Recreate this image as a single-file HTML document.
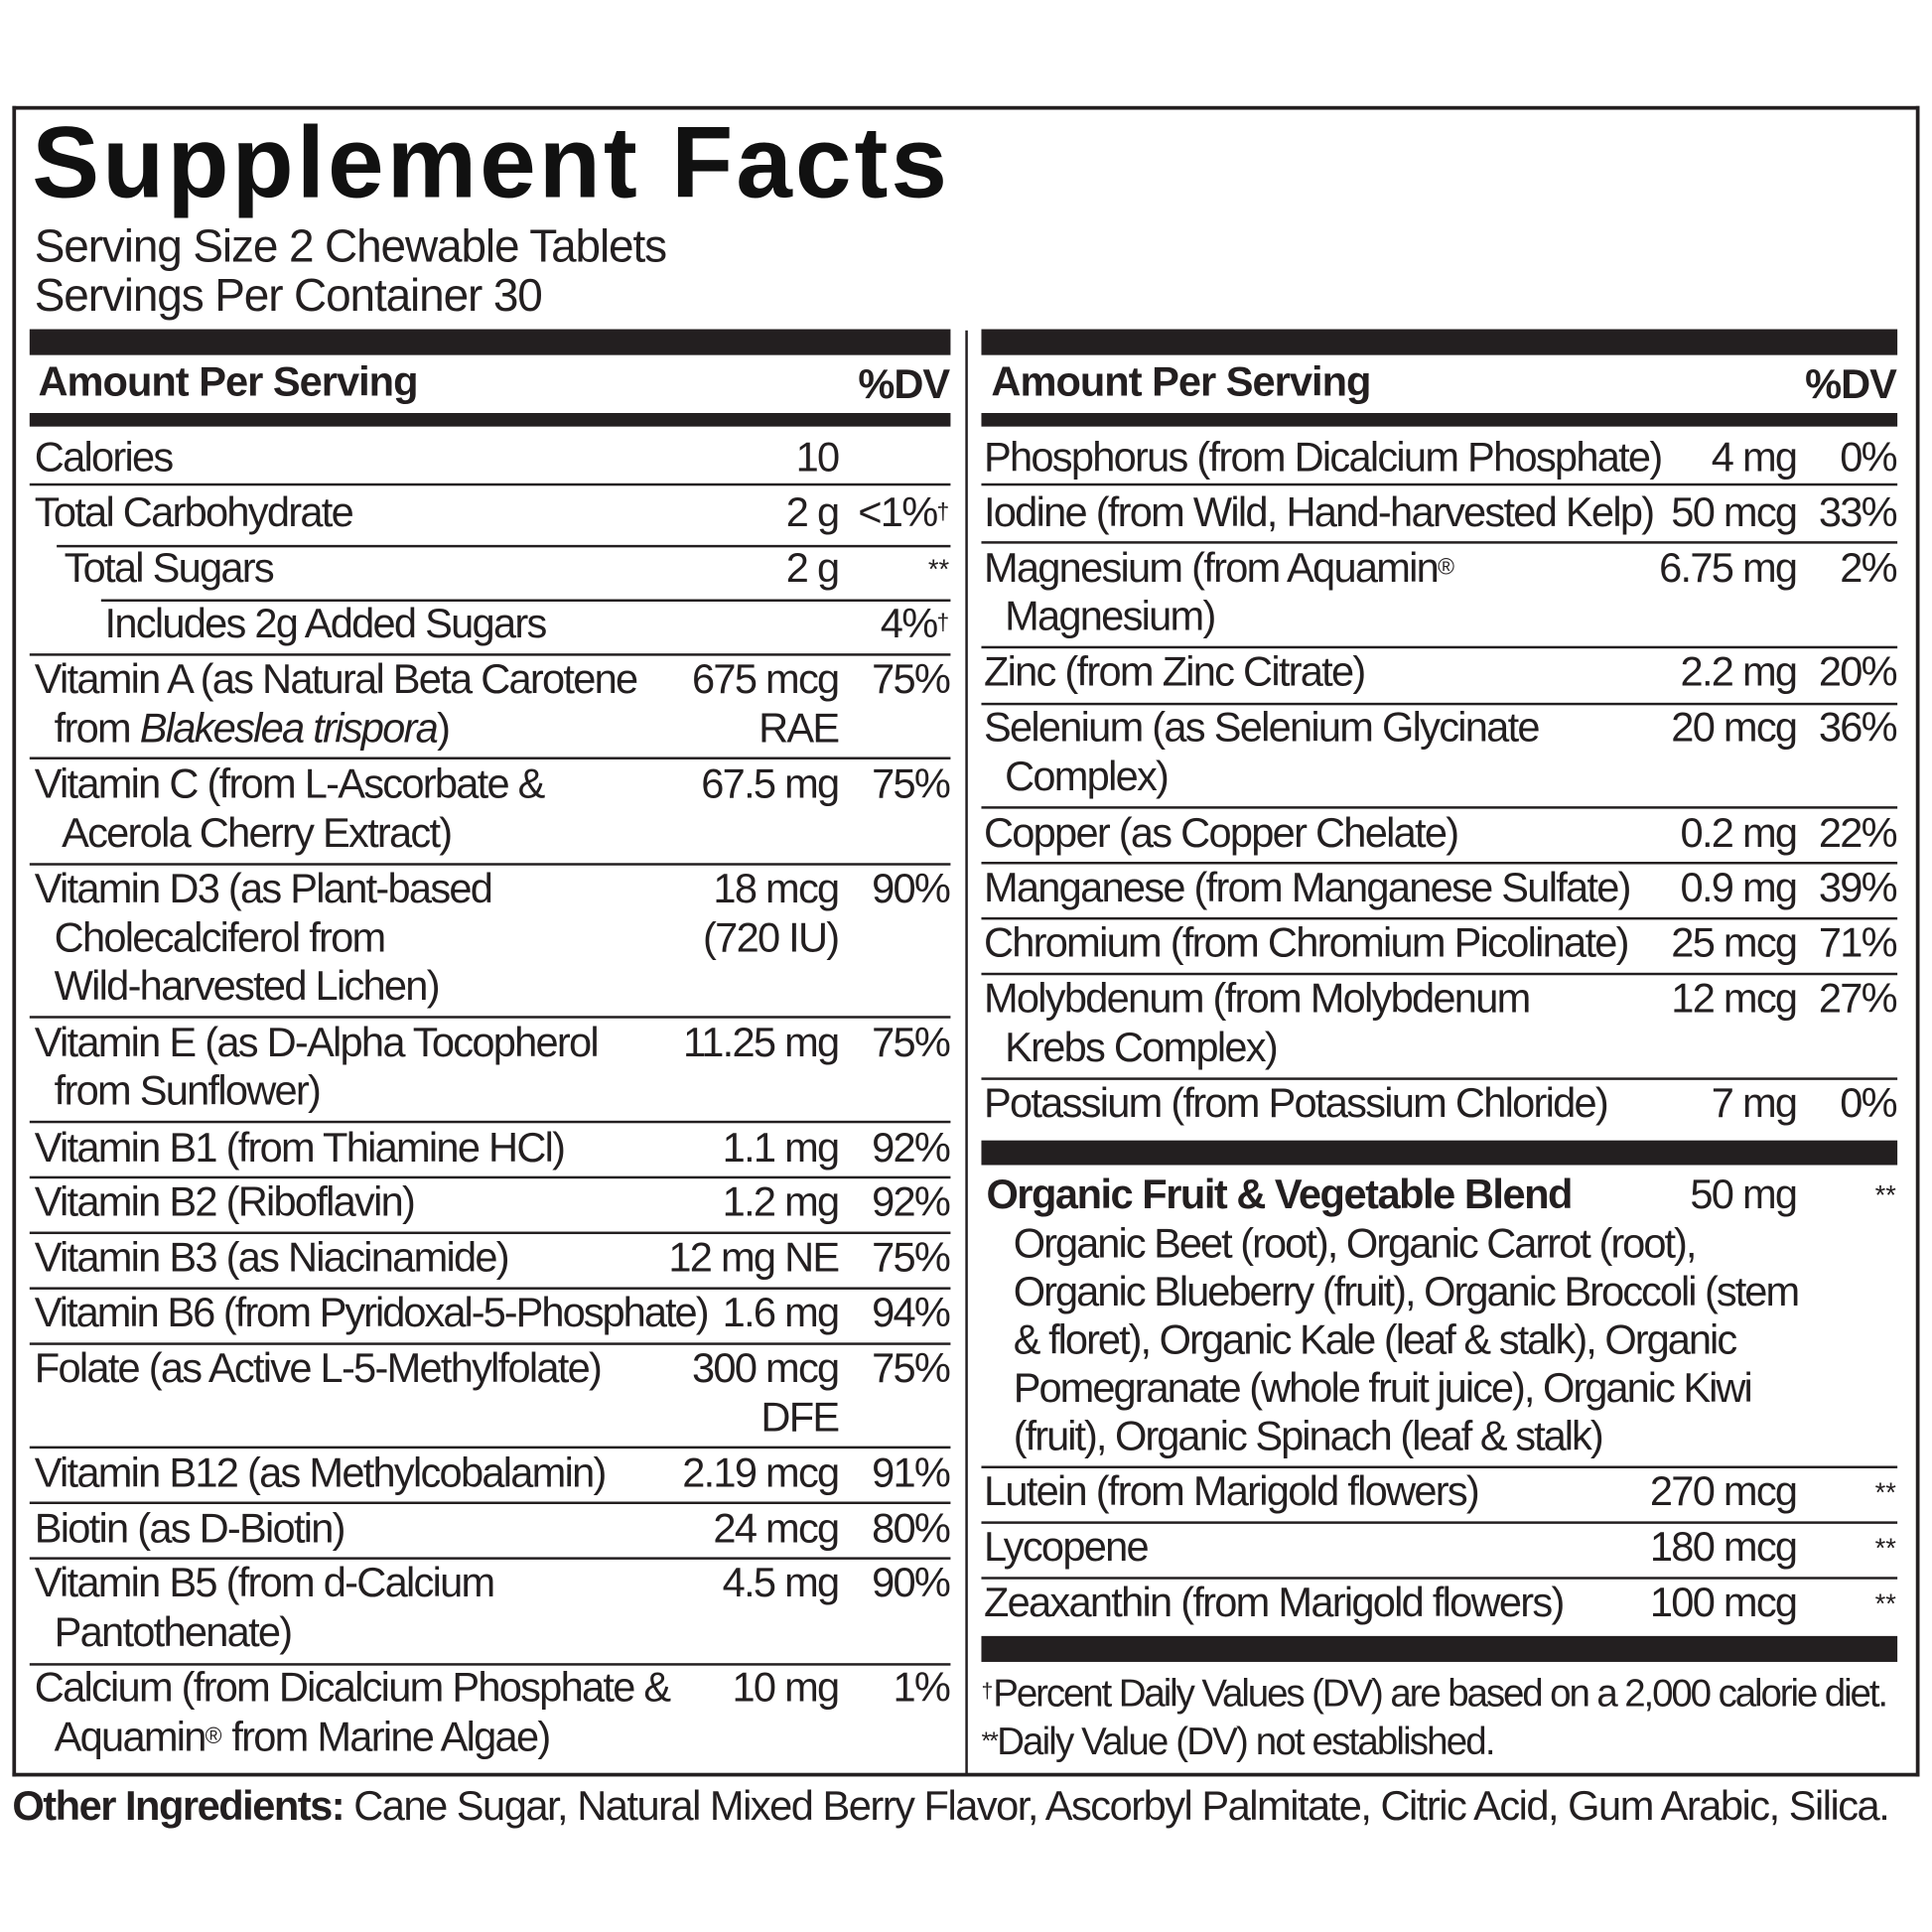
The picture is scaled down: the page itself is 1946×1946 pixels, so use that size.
<!DOCTYPE html>
<html><head><meta charset="utf-8"><style>
html,body{margin:0;padding:0;background:#fff;width:1946px;height:1946px;overflow:hidden}
#w{position:absolute;left:0;top:0;width:1560px;height:1560px;transform:scale(1.2418);transform-origin:0 0;font-family:"Liberation Sans",Arial,sans-serif;color:#231f20}
.t{position:absolute;white-space:nowrap;font-size:33.5px;line-height:34px;letter-spacing:-1.4px}
.b{font-weight:bold;letter-spacing:-0.8px}
.l{position:absolute;background:#231f20;height:1.6px}
.k{position:absolute;background:#231f20}
sup{font-size:55%;vertical-align:top;position:relative;top:-2px;letter-spacing:0}
.s{font-size:22px;vertical-align:top;letter-spacing:0}
</style></head><body><div id="w">
<div class="k" style="left:10px;top:86px;width:1547px;height:2.5px"></div>
<div class="k" style="left:10px;top:86px;width:2.5px;height:1355px"></div>
<div class="k" style="left:1554px;top:86px;width:2.5px;height:1355px"></div>
<div class="k" style="left:10px;top:1438px;width:1547px;height:2.5px"></div>
<div class="k" style="left:783px;top:268px;width:2px;height:1172px"></div>

<div class="t" style="left:26px;top:88px;font-size:82px;line-height:90px;font-weight:bold;letter-spacing:2.4px;color:#111">Supplement Facts</div>
<div class="t" style="left:28px;top:182px;font-size:37px;line-height:36px;letter-spacing:-0.9px">Serving Size 2 Chewable Tablets</div>
<div class="t" style="left:28px;top:222px;font-size:37px;line-height:36px;letter-spacing:-0.9px">Servings Per Container 30</div>

<div class="k" style="left:24px;top:267px;width:747px;height:21px"></div>
<div class="k" style="left:796px;top:267px;width:743px;height:21px"></div>
<div class="k" style="left:24px;top:335px;width:747px;height:11px"></div>
<div class="k" style="left:796px;top:335px;width:743px;height:11px"></div>
<div class="t b" style="left:31px;top:294px">Amount Per Serving</div>
<div class="t b" style="right:790px;top:296px">%DV</div>
<div class="t b" style="left:804px;top:294px">Amount Per Serving</div>
<div class="t b" style="right:22px;top:296px">%DV</div>

<div class="l" style="left:24px;width:747px;top:392px"></div>
<div class="l" style="left:46px;width:725px;top:442px"></div>
<div class="l" style="left:82px;width:689px;top:486px"></div>
<div class="l" style="left:24px;width:747px;top:530px"></div>
<div class="l" style="left:24px;width:747px;top:614px"></div>
<div class="l" style="left:24px;width:747px;top:700px"></div>
<div class="l" style="left:24px;width:747px;top:824px"></div>
<div class="l" style="left:24px;width:747px;top:909px"></div>
<div class="l" style="left:24px;width:747px;top:954px"></div>
<div class="l" style="left:24px;width:747px;top:999px"></div>
<div class="l" style="left:24px;width:747px;top:1044px"></div>
<div class="l" style="left:24px;width:747px;top:1089px"></div>
<div class="l" style="left:24px;width:747px;top:1173px"></div>
<div class="l" style="left:24px;width:747px;top:1218px"></div>
<div class="l" style="left:24px;width:747px;top:1263px"></div>
<div class="l" style="left:24px;width:747px;top:1349px"></div>

<div class="t" style="left:28px;top:355px">Calories</div><div class="t" style="right:880px;top:355px">10</div>
<div class="t" style="left:28px;top:400px">Total Carbohydrate</div><div class="t" style="right:880px;top:400px">2 g</div><div class="t" style="right:790px;top:400px">&lt;1%<sup>†</sup></div>
<div class="t" style="left:52px;top:445px">Total Sugars</div><div class="t" style="right:880px;top:445px">2 g</div><div class="t" style="right:790px;top:445px"><span class="s">**</span></div>
<div class="t" style="left:85px;top:490px">Includes 2g Added Sugars</div><div class="t" style="right:790px;top:490px">4%<sup>†</sup></div>
<div class="t" style="left:28px;top:535px">Vitamin A (as Natural Beta Carotene</div><div class="t" style="right:880px;top:535px">675 mcg</div><div class="t" style="right:790px;top:535px">75%</div>
<div class="t" style="left:44px;top:575px">from <i>Blakeslea trispora</i>)</div><div class="t" style="right:880px;top:575px">RAE</div>
<div class="t" style="left:28px;top:620px">Vitamin C (from L-Ascorbate &amp;</div><div class="t" style="right:880px;top:620px">67.5 mg</div><div class="t" style="right:790px;top:620px">75%</div>
<div class="t" style="left:50px;top:660px">Acerola Cherry Extract)</div>
<div class="t" style="left:28px;top:705px">Vitamin D3 (as Plant-based</div><div class="t" style="right:880px;top:705px">18 mcg</div><div class="t" style="right:790px;top:705px">90%</div>
<div class="t" style="left:44px;top:745px">Cholecalciferol from</div><div class="t" style="right:880px;top:745px">(720 IU)</div>
<div class="t" style="left:44px;top:784px">Wild-harvested Lichen)</div>
<div class="t" style="left:28px;top:830px">Vitamin E (as D-Alpha Tocopherol</div><div class="t" style="right:880px;top:830px">11.25 mg</div><div class="t" style="right:790px;top:830px">75%</div>
<div class="t" style="left:44px;top:869px">from Sunflower)</div>
<div class="t" style="left:28px;top:915px">Vitamin B1 (from Thiamine HCl)</div><div class="t" style="right:880px;top:915px">1.1 mg</div><div class="t" style="right:790px;top:915px">92%</div>
<div class="t" style="left:28px;top:959px">Vitamin B2 (Riboflavin)</div><div class="t" style="right:880px;top:959px">1.2 mg</div><div class="t" style="right:790px;top:959px">92%</div>
<div class="t" style="left:28px;top:1004px">Vitamin B3 (as Niacinamide)</div><div class="t" style="right:880px;top:1004px">12 mg NE</div><div class="t" style="right:790px;top:1004px">75%</div>
<div class="t" style="left:28px;top:1049px;letter-spacing:-1.6px">Vitamin B6 (from Pyridoxal-5-Phosphate)</div><div class="t" style="right:880px;top:1049px">1.6 mg</div><div class="t" style="right:790px;top:1049px">94%</div>
<div class="t" style="left:28px;top:1094px">Folate (as Active L-5-Methylfolate)</div><div class="t" style="right:880px;top:1094px">300 mcg</div><div class="t" style="right:790px;top:1094px">75%</div>
<div class="t" style="right:880px;top:1134px">DFE</div>
<div class="t" style="left:28px;top:1179px">Vitamin B12 (as Methylcobalamin)</div><div class="t" style="right:880px;top:1179px">2.19 mcg</div><div class="t" style="right:790px;top:1179px">91%</div>
<div class="t" style="left:28px;top:1224px">Biotin (as D-Biotin)</div><div class="t" style="right:880px;top:1224px">24 mcg</div><div class="t" style="right:790px;top:1224px">80%</div>
<div class="t" style="left:28px;top:1268px">Vitamin B5 (from d-Calcium</div><div class="t" style="right:880px;top:1268px">4.5 mg</div><div class="t" style="right:790px;top:1268px">90%</div>
<div class="t" style="left:44px;top:1308px">Pantothenate)</div>
<div class="t" style="left:28px;top:1353px">Calcium (from Dicalcium Phosphate &amp;</div><div class="t" style="right:880px;top:1353px">10 mg</div><div class="t" style="right:790px;top:1353px">1%</div>
<div class="t" style="left:44px;top:1393px">Aquamin<sup>®</sup> from Marine Algae)</div>

<div class="l" style="left:796px;width:743px;top:392px"></div>
<div class="l" style="left:796px;width:743px;top:439px"></div>
<div class="l" style="left:796px;width:743px;top:524px"></div>
<div class="l" style="left:796px;width:743px;top:570px"></div>
<div class="l" style="left:796px;width:743px;top:654px"></div>
<div class="l" style="left:796px;width:743px;top:699px"></div>
<div class="l" style="left:796px;width:743px;top:744px"></div>
<div class="l" style="left:796px;width:743px;top:789px"></div>
<div class="l" style="left:796px;width:743px;top:874px"></div>
<div class="k" style="left:796px;width:743px;top:925px;height:20px"></div>
<div class="l" style="left:796px;width:743px;top:1189px"></div>
<div class="l" style="left:796px;width:743px;top:1234px"></div>
<div class="l" style="left:796px;width:743px;top:1279px"></div>
<div class="k" style="left:796px;width:743px;top:1327px;height:21px"></div>

<div class="t" style="left:798px;top:355px">Phosphorus (from Dicalcium Phosphate)</div><div class="t" style="right:103px;top:355px">4 mg</div><div class="t" style="right:22px;top:355px">0%</div>
<div class="t" style="left:798px;top:400px">Iodine (from Wild, Hand-harvested Kelp)</div><div class="t" style="right:103px;top:400px">50 mcg</div><div class="t" style="right:22px;top:400px">33%</div>
<div class="t" style="left:798px;top:445px">Magnesium (from Aquamin<sup>®</sup></div><div class="t" style="right:103px;top:445px">6.75 mg</div><div class="t" style="right:22px;top:445px">2%</div>
<div class="t" style="left:815px;top:484px">Magnesium)</div>
<div class="t" style="left:798px;top:529px">Zinc (from Zinc Citrate)</div><div class="t" style="right:103px;top:529px">2.2 mg</div><div class="t" style="right:22px;top:529px">20%</div>
<div class="t" style="left:798px;top:574px">Selenium (as Selenium Glycinate</div><div class="t" style="right:103px;top:574px">20 mcg</div><div class="t" style="right:22px;top:574px">36%</div>
<div class="t" style="left:815px;top:614px">Complex)</div>
<div class="t" style="left:798px;top:660px">Copper (as Copper Chelate)</div><div class="t" style="right:103px;top:660px">0.2 mg</div><div class="t" style="right:22px;top:660px">22%</div>
<div class="t" style="left:798px;top:704px">Manganese (from Manganese Sulfate)</div><div class="t" style="right:103px;top:704px">0.9 mg</div><div class="t" style="right:22px;top:704px">39%</div>
<div class="t" style="left:798px;top:749px">Chromium (from Chromium Picolinate)</div><div class="t" style="right:103px;top:749px">25 mcg</div><div class="t" style="right:22px;top:749px">71%</div>
<div class="t" style="left:798px;top:794px">Molybdenum (from Molybdenum</div><div class="t" style="right:103px;top:794px">12 mcg</div><div class="t" style="right:22px;top:794px">27%</div>
<div class="t" style="left:815px;top:834px">Krebs Complex)</div>
<div class="t" style="left:798px;top:879px">Potassium (from Potassium Chloride)</div><div class="t" style="right:103px;top:879px">7 mg</div><div class="t" style="right:22px;top:879px">0%</div>
<div class="t b" style="left:800px;top:953px;letter-spacing:-1.2px">Organic Fruit &amp; Vegetable Blend</div><div class="t" style="right:103px;top:953px">50 mg</div><div class="t" style="right:22px;top:953px"><span class="s">**</span></div>
<div class="t" style="left:822px;top:993px;letter-spacing:-1.6px">Organic Beet (root), Organic Carrot (root),</div>
<div class="t" style="left:822px;top:1032px;letter-spacing:-1.6px">Organic Blueberry (fruit), Organic Broccoli (stem</div>
<div class="t" style="left:822px;top:1071px;letter-spacing:-1.6px">&amp; floret), Organic Kale (leaf &amp; stalk), Organic</div>
<div class="t" style="left:822px;top:1110px;letter-spacing:-1.6px">Pomegranate (whole fruit juice), Organic Kiwi</div>
<div class="t" style="left:822px;top:1149px;letter-spacing:-1.6px">(fruit), Organic Spinach (leaf &amp; stalk)</div>
<div class="t" style="left:798px;top:1194px">Lutein (from Marigold flowers)</div><div class="t" style="right:103px;top:1194px">270 mcg</div><div class="t" style="right:22px;top:1194px"><span class="s">**</span></div>
<div class="t" style="left:798px;top:1239px">Lycopene</div><div class="t" style="right:103px;top:1239px">180 mcg</div><div class="t" style="right:22px;top:1239px"><span class="s">**</span></div>
<div class="t" style="left:798px;top:1284px">Zeaxanthin (from Marigold flowers)</div><div class="t" style="right:103px;top:1284px">100 mcg</div><div class="t" style="right:22px;top:1284px"><span class="s">**</span></div>
<div class="t" style="left:796px;top:1357px;font-size:31px;letter-spacing:-1.7px"><sup>†</sup>Percent Daily Values (DV) are based on a 2,000 calorie diet.</div>
<div class="t" style="left:796px;top:1396px;font-size:31px;letter-spacing:-1.5px"><span style="font-size:20px;vertical-align:top">**</span>Daily Value (DV) not established.</div>

<div class="t" style="left:10px;top:1449px;letter-spacing:-1.2px"><b style="letter-spacing:-1.2px">Other Ingredients:</b> Cane Sugar, Natural Mixed Berry Flavor, Ascorbyl Palmitate, Citric Acid, Gum Arabic, Silica.</div>
</div></body></html>
